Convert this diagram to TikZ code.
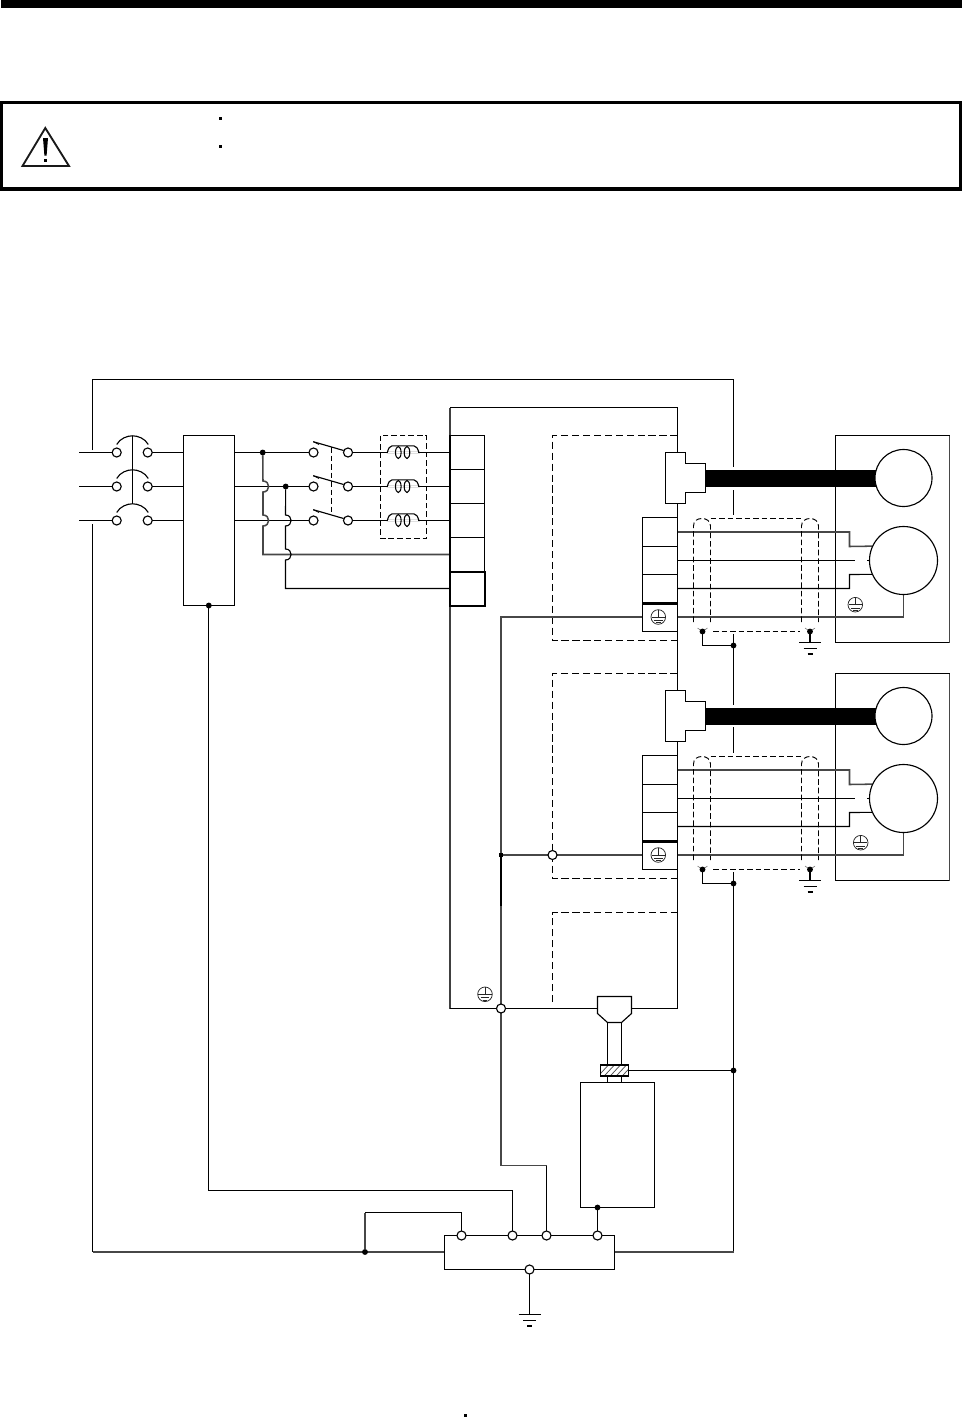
\documentclass[tikz,border=0pt]{standalone}
\pgfdeclarelayer{bg}
\pgfsetlayers{bg,main}
\tikzset{
  x=0.75pt,y=-0.75pt,
  wire/.style={line width=0.85pt,black,line cap=butt},
  gw/.style={line width=1.15pt,black!72},
  dshort/.style={line width=0.7pt,dash pattern=on 4.2pt off 2.2pt},
  dlong/.style={line width=0.75pt,dash pattern=on 5.4pt off 2.8pt},
  term/.style={circle,draw,fill=white,line width=0.85pt,inner sep=0pt,outer sep=0pt,minimum size=6.8pt},
  dot/.style={circle,fill=black,inner sep=0pt,outer sep=0pt,minimum size=4.4pt},
  box/.style 2 args={rectangle,draw,fill=white,line width=0.85pt,inner sep=0pt,outer sep=0pt,minimum width=#1*0.75pt,minimum height=#2*0.75pt},
  rnd/.style={circle,draw,fill=white,line width=0.85pt,inner sep=0pt,outer sep=0pt,minimum size=#1*0.75pt},
  pe/.pic={
    \draw[line width=0.55pt,black!85] (0,0) circle[radius=7.3];
    \draw[line width=0.55pt,black!85] (0,-7.3) -- (0,0) (-6.6,0) -- (6.6,0) (-4.4,3.2) -- (4.4,3.2) (-2.4,5.6) -- (2.4,5.6);
  },
  earth/.pic={
    \draw[wire] (-11,0) -- (11,0) (-6.5,6) -- (6.5,6);
    \draw[line width=1.3pt] (-2.5,11.5) -- (2.5,11.5);
  }
}
% one motor unit: #1 tag, #2 downward shift in picture pixels, #3 x of the PE mark in the frame
\newcommand{\motorunit}[3]{
\begin{scope}[yshift=-#2*0.75pt]
  \node[box={114}{207},draw=none,fill=none] (frame#1) at (892.5,539) {};
  \node[rnd=57] (enc#1) at (903.5,478) {};
  \node[rnd=68] (mot#1) at (903.5,560.5) {};
  \node[box={35}{29}] (u#1) at (660,532) {};
  \node[box={35}{28}] (v#1) at (660,560.5) {};
  \node[box={35}{29}] (w#1) at (660,589) {};
  \node[box={35}{28}] (e#1) at (660,617.5) {};
  \pic (pea#1) at (658.3,617) {pe};
  \pic (peb#1) at (#3,604.7) {pe};
  \node[dot] (sa#1) at (702.5,631.5) {};
  \node[dot] (sb#1) at (810,631.5) {};
  \node[dot] (sc#1) at (733.5,645.5) {};
  \coordinate (vend#1) at (855,560.5);
  \coordinate (vstub#1) at (867.3,560.5);
  \coordinate (egnd#1) at (810,642.5);
  \pic (gnd#1) at (810,642.5) {earth};
  \draw[line width=1.6pt] (e#1.north west) -- (e#1.north east);
  \begin{pgfonlayer}{bg}
    \draw[line width=0.85pt] (frame#1.north west) rectangle (frame#1.south east);
    \draw[line width=1.15pt,black!72] (frame#1.north east) -- (frame#1.south east);
    \draw[dlong] (677.5,435.5) -- (552.5,435.5) -- (552.5,640.5) -- (677.5,640.5);
    \fill (705.5,469.5) rectangle (876.5,486.5);
    \draw[wire,fill=white] (665.5,452.5) -- (685.5,452.5) -- (685.5,463.5) -- (705.5,463.5) -- (705.5,492.5) -- (685.5,492.5) -- (685.5,503.5) -- (665.5,503.5) -- cycle;
    \draw[gw] (u#1.east) -- (849.5,532) -- (849.5,546.5) -- (mot#1.155.7);
    \draw[wire] (v#1.east) -- (vend#1);
    \draw[wire] (vstub#1) -- (mot#1.west);
    \draw[wire] (w#1.east |- 0,588.5) -- (849.5,588.5) -- (849.5,574.5) -- (mot#1.204.3);
    \draw[gw] (e#1.east |- 0,617) -- (903.5,617) -- (mot#1.south);
    \draw[dshort] (693.5,622) -- (693.5,526) .. controls (693.5,521) and (697,518.5) .. (702,518.5) .. controls (706.5,518.5) and (710.5,521) .. (710.5,526) -- (710.5,622);
    \draw[dshort] (801.5,622) -- (801.5,526) .. controls (801.5,521) and (805.5,518.5) .. (810,518.5) .. controls (814.5,518.5) and (818.5,521) .. (818.5,526) -- (818.5,622);
    \draw[dshort] (710.5,518.5) -- (801.5,518.5) (713,631.5) -- (800,631.5);
    \draw[line width=0.45pt,black!55] (697.5,628) -- (702.5,631.5) -- (707.5,628) (805,628) -- (810,631.5) -- (815,628);
    \draw[wire] (sa#1) -- (702.5,645.5) -- (sc#1);
    \draw[line width=1.2pt] (sb#1) -- (egnd#1);
  \end{pgfonlayer}
\end{scope}
}
\begin{document}
\begin{tikzpicture}
\useasboundingbox (0,0) rectangle (962,1421);
% page bar, caution box
\fill (1.2,0) rectangle (962,7.5);
\draw[line width=2.3pt] (1.5,102.5) rectangle (960.5,189);
\draw[line width=1.4pt,line join=miter,black!90] (45.3,128) -- (22.5,166) -- (69,166) -- cycle;
\fill (43,138) -- (48,138) -- (46.6,155.5) -- (44.4,155.5) -- cycle;
\fill (43.8,158.5) rectangle (47,161.8);
\fill (218.7,116.5) rectangle (222.3,120);
\fill (218.7,144.5) rectangle (222.3,148);
\fill (464,1413.5) rectangle (467,1416.5);
% main unit outline first, so that the connectors cover it
\begin{pgfonlayer}{bg}
  \draw[line width=1.3pt,black!75] (450,407.5) -- (450,1008.5);
  \draw[wire] (450,407.5) -- (677.5,407.5) -- (677.5,1008.5) -- (450,1008.5);
\end{pgfonlayer}
% main nodes
\node[box={51}{170}] (brk) at (209,520.5) {};
\foreach \n/\y in {1/452.5,2/486.5,3/520.5}{
  \coordinate (in\n) at (79,\y);
  \node[term] (ql\n) at (116.7,\y) {};
  \node[term] (qr\n) at (147.7,\y) {};
  \node[term] (sl\n) at (313.5,\y) {};
  \node[term] (sr\n) at (348,\y) {};
  \node[box={34.5}{34}] (tb\n) at (467.25,\y) {};
}
\node[box={34.5}{34}] (tb4) at (467.25,554.5) {};
\node[box={34.5}{34}] (tb5) at (467.25,588.5) {};
\draw[line width=1.5pt] (tb5.north west) rectangle (tb5.south east);
\node[dot] (ja) at (262.7,452.5) {};
\node[dot] (jb) at (285.7,486.5) {};
\node[dot] (jc) at (208.8,605.5) {};
\motorunit{a}{0}{855.3}
\motorunit{b}{238}{860.7}
\node[dot,rectangle,minimum size=3.6pt] (jd) at (501,855) {};
\node[term] (je) at (552.5,855) {};
\node[term] (jf) at (501,1008.5) {};
\pic (pec) at (485,994.3) {pe};
\node[dot] (jg) at (733.5,1070.5) {};
\node[box={74}{125}] (ctrl) at (617.5,1145) {};
\node[dot] (jh) at (597.5,1207.5) {};
\node[box={170}{34}] (bar) at (529.5,1252.5) {};
\node[term] (ba) at (461.5,1235.5) {};
\node[term] (bb) at (512.5,1235.5) {};
\node[term] (bc) at (546.5,1235.5) {};
\node[term] (bd) at (597.5,1235.5) {};
\node[term] (be) at (529.5,1269.5) {};
\node[dot] (ji) at (365,1252) {};
\node[box={28}{11},fill=none] (clamp) at (614.5,1070.5) {};
\coordinate (gndb) at (529.5,1314.5);
\pic (gndp) at (529.5,1314.5) {earth};
% wiring below the nodes
\begin{pgfonlayer}{bg}
  \draw[dlong] (552.5,1002) -- (552.5,912.5) -- (677.5,912.5);
  \draw[wire] (92.5,450) -- (92.5,379.5) -- (733.5,379.5) -- (733.5,467);
  \draw[wire] (733.5,490) -- (733.5,515) (733.5,634) -- (733.5,705) (733.5,727) -- (733.5,753) (733.5,872) -- (733.5,1252);
  \draw[gw] (733.5,1252) -- (bar.east |- 0,1252);
  \draw[wire] (92.5,524) -- (92.5,1252);
  \draw[gw] (92.5,1252) -- (bar.west |- 0,1252);
  \foreach \n in {1,2,3}{
    \draw[wire] (in\n) -- (ql\n);
    \draw[wire] (qr\n) -- (qr\n -| brk.west);
    \draw[wire] (qr\n -| brk.east) -- (sl\n);
    \draw[wire] (sr\n) -- (tb\n.west);
  }
  \foreach \y in {452.5,486.5,520.5}{
    \draw[wire] (116.7,\y-8) .. controls (120,\y-14) and (127,\y-16.7) .. (132.5,\y-16.7) .. controls (138,\y-16.7) and (145,\y-14) .. (148.3,\y-8);
    \draw[wire] (313.3,\y-10.8) -- (343.6,\y-2);
    \draw[line width=0.6pt] (313.3,\y-10.8) -- (319,\y-8);
    \draw[wire,fill=white] (387.3,\y) .. controls (388.5,\y-4) and (389.5,\y-6.6) .. (392,\y-6.6) -- (414,\y-6.6) .. controls (416.5,\y-6.6) and (417.5,\y-4) .. (419,\y) -- cycle;
    \draw[draw=white,line width=1.3pt] (387.9,\y) -- (418.4,\y);
    \draw[line width=0.8pt] (398.3,\y) ellipse[x radius=2.8,y radius=6];
    \draw[line width=0.8pt] (407,\y) ellipse[x radius=2.8,y radius=6];
  }
  \draw[wire] (132.5,435.8) -- (132.5,503.8);
  \draw[dshort] (331.5,447) -- (331.5,513);
  \draw[dshort] (380.5,435.5) rectangle (426.5,538.5);
  % crossings with hops
  \draw[gw] (ja) -- (263,481) .. controls (270.5,481) and (270.5,492) .. (263,492) -- (263,515) .. controls (270.5,515) and (270.5,526) .. (263,526) -- (263,554.5) -- (tb4.west);
  \draw[wire] (jb) -- (285.5,515) .. controls (293,515) and (293,526) .. (285.5,526) -- (285.5,549) .. controls (293,549) and (293,560) .. (285.5,560) -- (285.5,588.5) -- (tb5.west);
  % earth network
  \draw[gw] (ea.west |- 0,617) -- (501,617) -- (jd);
  \draw[gw] (jd) -- (jf) -- (501,1165.5) -- (546.5,1165.5);
  \draw[wire] (546.5,1165.5) -- (bc);
  \draw[line width=1.2pt] (jd) -- (501,906);
  \draw[gw] (jd) -- (je) -- (eb.west |- 0,855);
  \draw[wire] (jc.center -| 208.5,0) -- (208.5,1190.5) -- (512.5,1190.5) -- (bb);
  \draw[gw] (ji) -- (365,1212.5);
  \draw[wire] (365,1212.5) -- (461.5,1212.5) -- (ba);
  \draw[wire] (jh) -- (bd);
  \draw[wire] (be) -- (gndb);
  % feedback connector and cable
  \draw[wire,fill=white] (597.5,996.5) -- (631.5,996.5) -- (631.5,1013.5) -- (621.5,1022.5) -- (607.5,1022.5) -- (597.5,1013.5) -- cycle;
  \draw[wire] (607.5,1022.5) -- (607.5,1082) (621.5,1022.5) -- (621.5,1082);
  \begin{scope}
  \fill[white] (clamp.south west) rectangle (clamp.north east);
  \clip (clamp.south west) rectangle (clamp.north east);
  \foreach \i in {0,...,4}{
    \draw[line width=0.55pt,black!70] (600.3+6*\i-3,1077) -- (600.3+6*\i+9,1064);
  }
  \end{scope}
\end{pgfonlayer}
\draw[wire] (clamp.east) -- (jg);
\end{tikzpicture}
\end{document}
